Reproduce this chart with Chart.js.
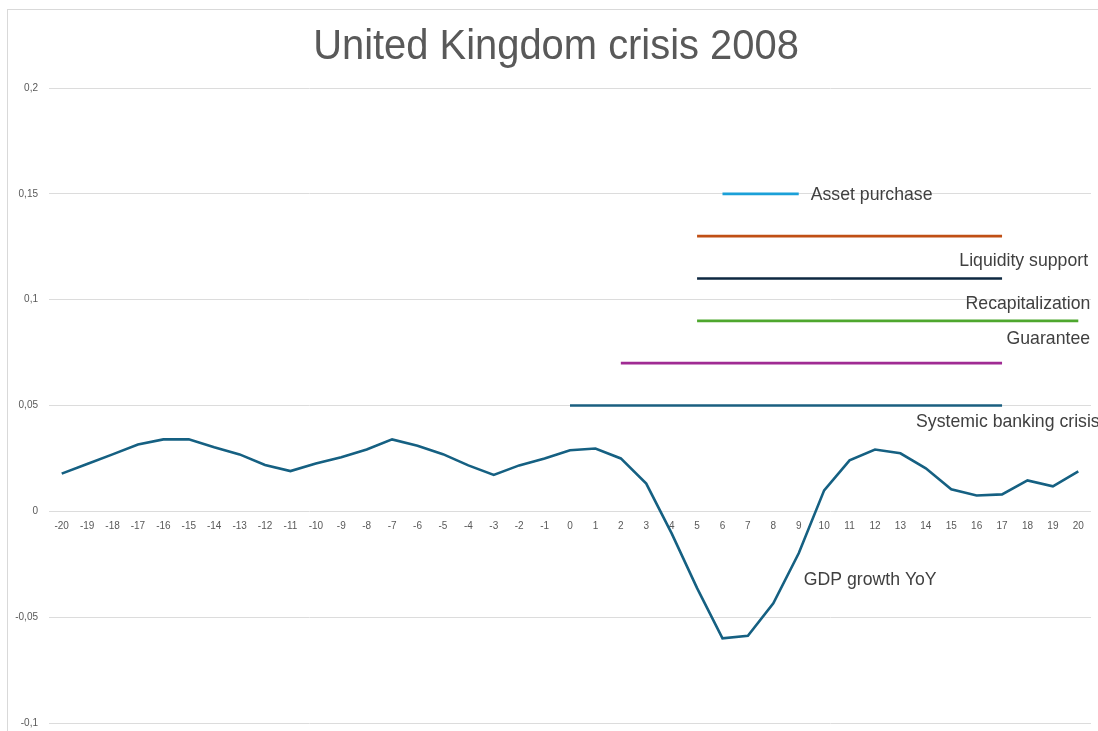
<!DOCTYPE html>
<html>
<head>
<meta charset="utf-8">
<script src="https://cdn.jsdelivr.net/npm/chart.js@4.4.1/dist/chart.umd.min.js"></script>
<style>
  html, body { margin: 0; padding: 0; background: #fff; }
  /* the original picture is cropped a little at the bottom */
  #wrap { width: 1098px; height: 731px; position: relative; overflow: hidden; }
</style>
</head>
<body>
<div id="wrap"><canvas id="crisisChart" width="1098" height="740"></canvas></div>
<script>
// Quarters relative to the start of the crisis
const quarters = ['-20', '-19', '-18', '-17', '-16', '-15', '-14', '-13', '-12', '-11', '-10',
  '-9', '-8', '-7', '-6', '-5', '-4', '-3', '-2', '-1', '0', '1', '2', '3', '4', '5', '6',
  '7', '8', '9', '10', '11', '12', '13', '14', '15', '16', '17', '18', '19', '20'];

// GDP growth YoY
const gdpGrowth = [0.0178, 0.0224, 0.0269, 0.0316, 0.0340, 0.0340, 0.0303, 0.0269, 0.0219, 0.0190,
  0.0226, 0.0255, 0.0292, 0.0340, 0.0310, 0.0270, 0.0217, 0.0172, 0.0217, 0.0250,
  0.0289, 0.0297, 0.0250, 0.0131, -0.0104, -0.0363, -0.0600, -0.0588, -0.0435, -0.0198,
  0.0099, 0.0241, 0.0292, 0.0274, 0.0203, 0.0104, 0.0075, 0.0080, 0.0146, 0.0118, 0.0189];

// Policy interventions: flat bars from start quarter to end quarter
const policyNames  = ['Systemic banking crisis', 'Guarantee', 'Recapitalization', 'Liquidity support', 'Nationalization', 'Asset purchase'];
const policyLevels = [0.05, 0.07, 0.09, 0.11, 0.13, 0.15];
const policyStart  = ['0', '2', '5', '5', '5', '6'];
const policyEnd    = ['17', '17', '20', '17', '17', '9'];

const yTicks = [-0.1, -0.05, 0, 0.05, 0.1, 0.15, 0.2];

const COLORS = {
  gdp: '#156082',
  policies: ['#1A5F80', '#A02B93', '#4EA72E', '#0E2841', '#C04F15', '#1BA0D8'],
  grid: '#DCDCDC',
  text: '#595959',
  label: '#404040'
};

const LABEL_FONT = '"Liberation Sans", Arial, sans-serif';

// where each series name sits, relative to one of its points (pixels)
const policyTags = [
  { dx: -86, dy: 16, align: 'left' },
  { dx: 88, dy: -24, align: 'right' },
  { dx: 12, dy: -17, align: 'right' },
  { dx: 86, dy: -18, align: 'right' },
  null,
  { dx: 12, dy: 1, align: 'left' }
];

const datasets = [{
  label: 'GDP growth YoY',
  data: gdpGrowth,
  borderColor: COLORS.gdp,
  borderWidth: 2.6,
  pointRadius: 0,
  tension: 0,
  tag: { index: 29, dx: 5, dy: 27, align: 'left' }
}];

policyNames.forEach((name, i) => {
  datasets.push({
    label: name,
    data: [{ x: policyStart[i], y: policyLevels[i] }, { x: policyEnd[i], y: policyLevels[i] }],
    borderColor: COLORS.policies[i],
    borderWidth: 2.6,
    pointRadius: 0,
    tension: 0,
    tag: policyTags[i] ? Object.assign({ index: 1 }, policyTags[i]) : null
  });
});

// draw text squeezed horizontally, to mimic the narrow chart font
function narrowText(ctx, text, x, y, align, squeeze) {
  ctx.save();
  ctx.translate(x, y);
  ctx.scale(squeeze, 1);
  ctx.textAlign = align;
  ctx.fillText(text, 0, 0);
  ctx.restore();
}

// frame, title and series name labels
const decorations = {
  id: 'decorations',
  beforeDraw(chart) {
    const ctx = chart.ctx;
    ctx.save();
    ctx.strokeStyle = '#D9D9D9';
    ctx.lineWidth = 1;
    ctx.strokeRect(7.5, 9.5, 1200, 800);
    ctx.restore();
  },
  afterDatasetsDraw(chart) {
    const ctx = chart.ctx;
    ctx.save();
    ctx.textBaseline = 'middle';
    ctx.fillStyle = COLORS.text;
    ctx.font = '42px ' + LABEL_FONT;
    narrowText(ctx, 'United Kingdom crisis 2008', 556, 47, 'center', 0.95);

    ctx.fillStyle = COLORS.label;
    ctx.font = '19px ' + LABEL_FONT;
    chart.data.datasets.forEach((ds, i) => {
      if (!ds.tag) return;
      const pt = chart.getDatasetMeta(i).data[ds.tag.index];
      if (!pt) return;
      narrowText(ctx, ds.label, pt.x + ds.tag.dx, pt.y + ds.tag.dy, ds.tag.align, 0.93);
    });
    ctx.restore();
  }
};

new Chart(document.getElementById('crisisChart'), {
  type: 'line',
  data: { labels: quarters, datasets: datasets },
  options: {
    responsive: false,
    animation: false,
    layout: { padding: { top: 88, right: 7, bottom: 0, left: 0 } },
    plugins: {
      legend: { display: false },
      title: { display: false },
      tooltip: { enabled: false }
    },
    scales: {
      x: {
        type: 'category',
        offset: true,
        position: { y: 0 },
        grid: { display: false },
        border: { display: false },
        ticks: {
          color: COLORS.text,
          font: { family: '"Liberation Sans", Arial, sans-serif', size: 10 },
          padding: 1,
          maxRotation: 0,
          autoSkip: false
        }
      },
      y: {
        min: -0.1,
        max: 0.2,
        afterBuildTicks: (scale) => { scale.ticks = yTicks.map(v => ({ value: v })); },
        afterFit: (scale) => { scale.width = 49; },
        grid: { color: COLORS.grid, drawTicks: false },
        border: { display: false },
        ticks: {
          color: COLORS.text,
          font: { family: '"Liberation Sans", Arial, sans-serif', size: 10 },
          padding: 11,
          callback: (v) => String(v).replace('.', ',')
        }
      }
    }
  },
  plugins: [decorations]
});
</script>
</body>
</html>
